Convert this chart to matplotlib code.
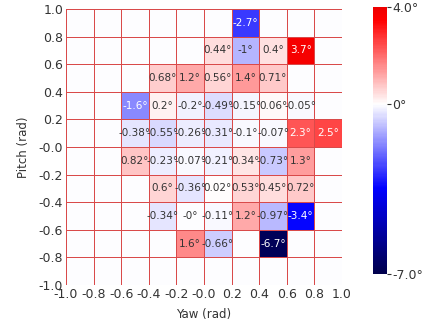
import numpy as np
import matplotlib
matplotlib.use('Agg')
import matplotlib.pyplot as plt
from matplotlib.colors import ListedColormap

nan = np.nan

# cell edges (rad)
yaw_edges = np.round(np.linspace(-1.0, 1.0, 11), 2)
pitch_edges = np.round(np.linspace(-1.0, 1.0, 11), 2)

# rows from pitch -1.0 (bottom) to 1.0 (top), columns yaw -1.0 .. 1.0
row_m10 = [nan, nan, nan, nan, nan, nan, nan, nan, nan, nan]
row_m08 = [nan, nan, nan, nan, 1.6, -0.66, nan, -6.7, nan, nan]
row_m06 = [nan, nan, nan, -0.34, -0.0, -0.11, 1.2, -0.97, -3.4, nan]
row_m04 = [nan, nan, nan, 0.6, -0.36, 0.02, 0.53, 0.45, 0.72, nan]
row_m02 = [nan, nan, 0.82, -0.23, -0.07, -0.21, 0.34, -0.73, 1.3, nan]
row_p00 = [nan, nan, -0.38, -0.55, -0.26, -0.31, -0.1, -0.07, 2.3, 2.5]
row_p02 = [nan, nan, -1.6, 0.2, -0.2, -0.49, -0.15, 0.06, -0.05, nan]
row_p04 = [nan, nan, nan, 0.68, 1.2, 0.56, 1.4, 0.71, nan, nan]
row_p06 = [nan, nan, nan, nan, nan, 0.44, -1.0, 0.4, 3.7, nan]
row_p08 = [nan, nan, nan, nan, nan, nan, -2.7, nan, nan, nan]

vmin, vmax = -7.0, 4.0

err = np.array([row_m10, row_m08, row_m06, row_m04, row_m02,
                row_p00, row_p02, row_p04, row_p06, row_p08])

# seismic, symmetric around 0 but cut at vmax
base = plt.get_cmap('seismic')
cmap = ListedColormap(base(np.linspace(0, (vmax - vmin) / (2 * -vmin), 256)))

fig = plt.figure(figsize=(4.25, 3.22), dpi=100)
ax = fig.add_axes([66 / 425, 1 - 285 / 322, 276 / 425, 276 / 322])
cax = fig.add_axes([373 / 425, 1 - 274 / 322, 14 / 425, 267 / 322])

mesh = ax.pcolormesh(yaw_edges, pitch_edges, np.nan_to_num(err), cmap=cmap,
                     vmin=vmin, vmax=vmax, edgecolors='#d94a4a', linewidth=0.4)

xc = (yaw_edges[:-1] + yaw_edges[1:]) / 2
yc = (pitch_edges[:-1] + pitch_edges[1:]) / 2
for i in range(err.shape[0]):
    for j in range(err.shape[1]):
        v = err[i, j]
        if np.isnan(v):
            continue
        col = 'white' if (v > 2 or v < -1.5) else '#333333'
        ax.text(xc[j], yc[i], '{:.2g}°'.format(v), ha='center', va='center',
                fontsize=7.5, color=col)

ax.set_xlim(-1, 1)
ax.set_ylim(-1, 1)
ax.set_xticks(yaw_edges)
ax.set_yticks(pitch_edges)
ax.set_xticklabels(['{:.1f}'.format(t if t != 0 else -0.0) for t in yaw_edges])
ax.set_yticklabels(['{:.1f}'.format(t if t != 0 else -0.0) for t in pitch_edges])
ax.tick_params(labelsize=9, length=0, colors='#333333', pad=2)
for s in ax.spines.values():
    s.set_visible(False)
ax.set_xlabel('Yaw (rad)', fontsize=8.5, color='#333333', labelpad=5)
ax.set_ylabel('Pitch (rad)', fontsize=8.5, color='#333333', labelpad=6)

cb = fig.colorbar(mesh, cax=cax)
cb.set_ticks([vmin, 0, vmax])
cb.set_ticklabels(['-7.0°', '0°', '4.0°'])
cb.outline.set_visible(False)
cax.tick_params(labelsize=9, length=3, colors='#333333', pad=1)

fig.savefig('out.png', dpi=100)
